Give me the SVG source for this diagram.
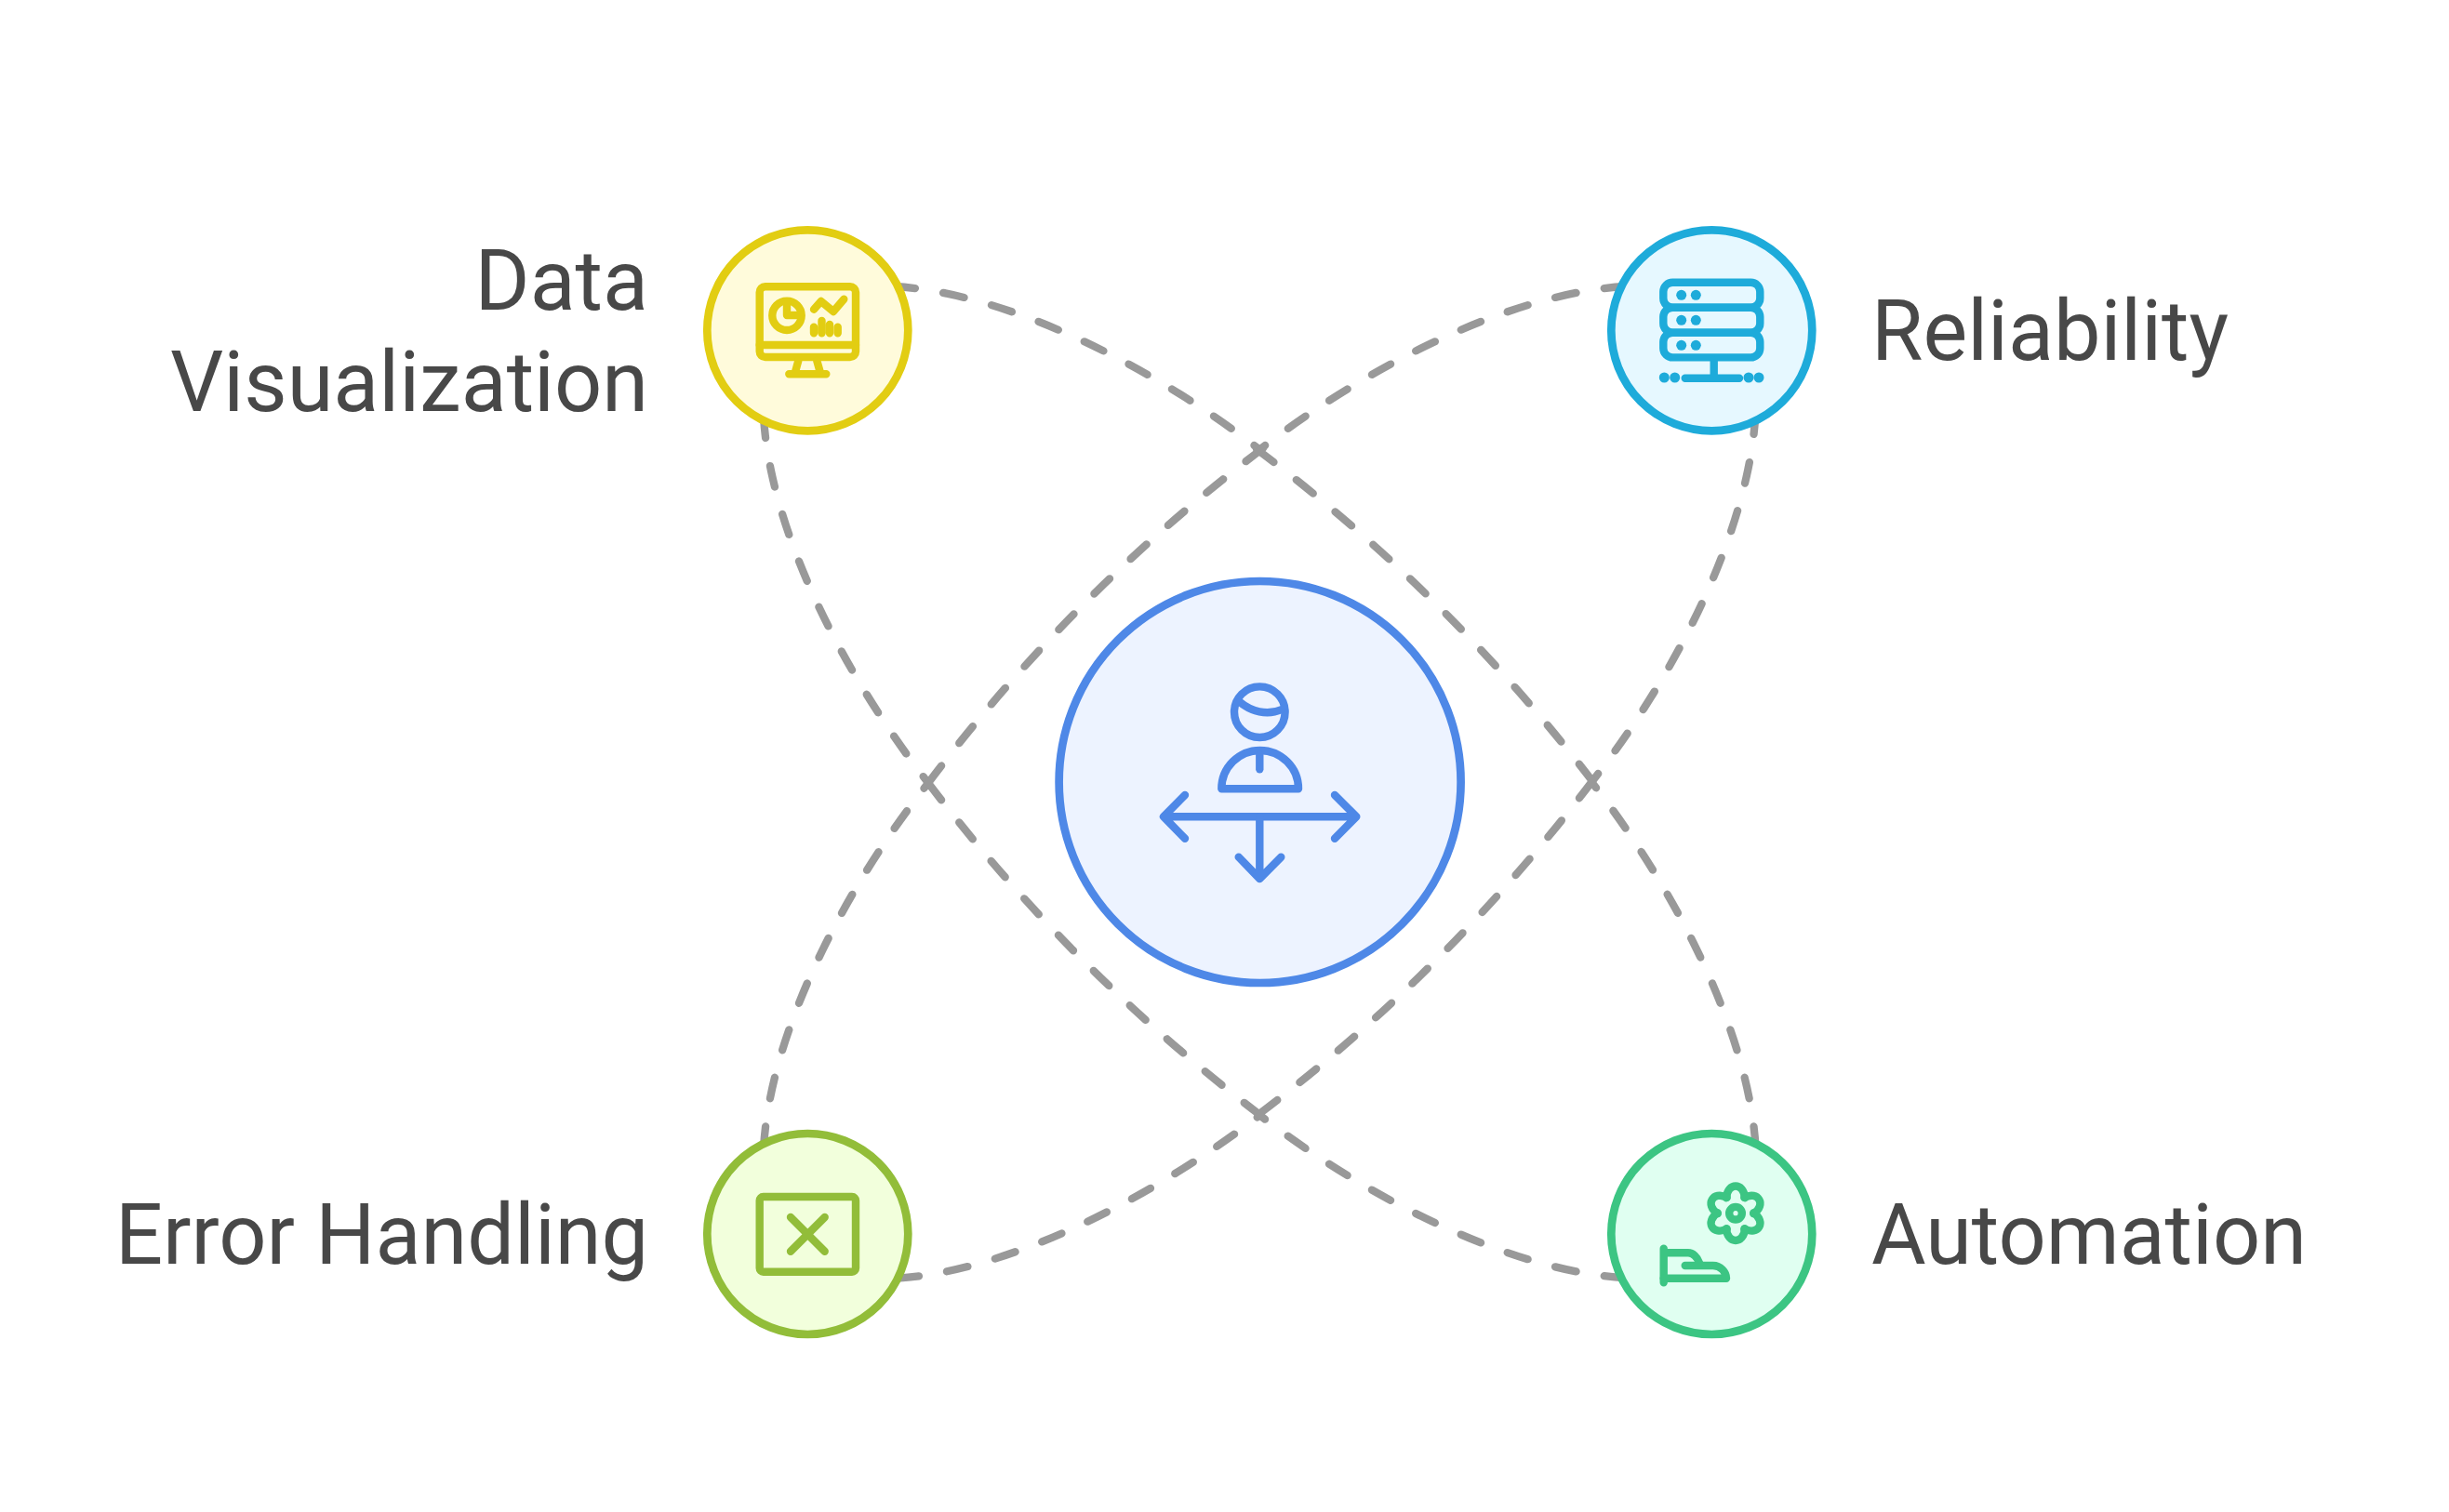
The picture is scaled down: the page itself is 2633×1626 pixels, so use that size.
<svg xmlns="http://www.w3.org/2000/svg" xmlns:xlink="http://www.w3.org/1999/xlink" width="2633" height="1626" viewBox="0 0 2633 1626">
<style>
.c{fill:none;stroke:#999;stroke-width:8.3;stroke-linecap:round;stroke-dasharray:23 30.6}
.n{stroke-width:8.7}
.i{fill:none;stroke-width:8.4;stroke-linecap:round;stroke-linejoin:round}
.y{stroke:#E2CD12}.yf{fill:#FFFBDB}.yd{fill:#E2CD12}
.b{stroke:#1EABDA}.bf{fill:#E6F8FF}.bd{fill:#1EABDA}
.p{stroke:#4E88E7}.pf{fill:#EDF3FF}
.g{stroke:#92BD39}.gf{fill:#F2FFDC}
.m{stroke:#3CC583}.mf{fill:#E0FFF1}
.t{font-family:Roboto,"Liberation Sans",sans-serif;font-size:90px;fill:#484848}
.e{text-anchor:end}
</style>
<defs><path id="lobe" d="M-10,-16.5C-9,-33.5 9,-33.5 10,-16.5"/></defs>
<rect width="2633" height="1626" fill="#fff"/>
<g id="connectors">
<path class="c" d="M961,308C1085,315 1240,395 1355,484"/>
<path class="c" d="M1747.6,308C1623.6,315 1468.6,395 1353.6,484"/>
<path class="c" d="M1747.6,1374.3C1623.6,1367.3 1468.6,1287.3 1354,1199"/>
<path class="c" d="M965,1374.6C1085,1367.3 1240,1287.3 1355,1199"/>
<path class="c" d="M821,448C828,572 908,727 998,842"/>
<path class="c" d="M821,1234.3C828,1110.3 908,955.3 998,842"/>
<path class="c" d="M1887.5,444C1880.6,572 1800.6,727 1712,840"/>
<path class="c" d="M1887.6,1234.3C1880.6,1110.3 1800.6,955.3 1712,842"/>
<path class="c" pathLength="505.4" d="M1351,483Q1556,637 1712,840"/>
<path class="c" pathLength="505.4" d="M1358,482Q1152.6,637 998,842"/>
<path class="c" pathLength="505.4" d="M998,842Q1152.6,1045.3 1356,1200"/>
<path class="c" pathLength="505.4" d="M1712,840Q1556,1045 1355,1197"/>
</g>
<g id="center">
<circle class="n p pf" cx="1354.6" cy="841" r="216"/>
<g class="i p">
<circle cx="1354.3" cy="765.7" r="27.3"/>
<path d="M1333,755C1345,765 1362,770 1378,763"/>
<path d="M1313.3,848.3A41.3,41.3 0 0 1 1396,848.3Z"/>
<path d="M1354.3,811.7V827.3"/>
<path d="M1251,878.3H1458.3M1274,855L1251,878.3L1274,901.7M1435,855L1458.3,878.3L1435,901.7"/>
<path d="M1354.3,878.3V945M1331.7,921.7L1354.3,945L1377.3,921.7"/>
</g>
</g>
<g id="data-visualization">
<circle class="n y yf" cx="868.3" cy="355.3" r="108"/>
<g class="i y">
<rect x="816.7" y="308.3" width="103.3" height="75.7" rx="6"/>
<path d="M816.7,371H920"/>
<path d="M858.3,388L855,400M878.3,388L881.7,400M848.3,402.3H888.3"/>
<circle cx="846" cy="339.3" r="15.7"/>
<path d="M846,325V339H861"/>
<path d="M875,332.7L882.7,324L896,335L907.3,321.7"/>
<path d="M875,351.7V358.3M883.5,345V358.3M892,349V358.3M900.7,351.7V358.3"/>
</g>
<text class="t e" x="697" y="333">Data</text>
<text class="t e" x="697" y="442">Visualization</text>
</g>
<g id="reliability">
<circle class="n b bf" cx="1840.3" cy="355.3" r="108"/>
<g class="i b">
<rect x="1788.3" y="303.7" width="104" height="27" rx="10"/>
<rect x="1788.3" y="330.7" width="104" height="27" rx="10"/>
<rect x="1788.3" y="357.7" width="104" height="26.7" rx="10"/>
<path d="M1842.7,388V406.7M1811.7,406.7H1870"/>
</g>
<g class="bd">
<circle cx="1807.7" cy="317.3" r="5.5"/><circle cx="1823.3" cy="317.3" r="5.5"/>
<circle cx="1807.7" cy="344.3" r="5.5"/><circle cx="1823.3" cy="344.3" r="5.5"/>
<circle cx="1807.7" cy="371.3" r="5.5"/><circle cx="1823.3" cy="371.3" r="5.5"/>
<circle cx="1789.3" cy="406" r="5.5"/><circle cx="1800.7" cy="406" r="5.5"/>
<circle cx="1880" cy="406" r="5.5"/><circle cx="1891" cy="406" r="5.5"/>
</g>
<text class="t" x="2012" y="387">Reliability</text>
</g>
<g id="error-handling">
<circle class="n g gf" cx="868.3" cy="1327" r="108"/>
<g class="i g">
<rect x="816.7" y="1287" width="103.3" height="80.7" rx="4"/>
<path d="M850,1309L886.7,1345.7M886.7,1309L850,1345.7"/>
</g>
<text class="t e" x="697" y="1359">Error Handling</text>
</g>
<g id="automation">
<circle class="n m mf" cx="1840.3" cy="1327" r="108"/>
<g class="i m">
<circle cx="1866" cy="1304.7" r="6.8"/>
<g transform="translate(1866 1304.7)">
<use xlink:href="#lobe"/>
<use xlink:href="#lobe" transform="rotate(60)"/>
<use xlink:href="#lobe" transform="rotate(120)"/>
<use xlink:href="#lobe" transform="rotate(180)"/>
<use xlink:href="#lobe" transform="rotate(240)"/>
<use xlink:href="#lobe" transform="rotate(300)"/>
</g>
<path d="M1788.7,1342.7V1379.3M1788.7,1347.3H1815C1820,1347.3 1825,1352 1827,1358"/>
<path d="M1811.7,1361H1841.7C1850,1361 1856,1368 1856,1374.7H1788.7"/>
</g>
<text class="t" x="2012" y="1359">Automation</text>
</g>
</svg>
